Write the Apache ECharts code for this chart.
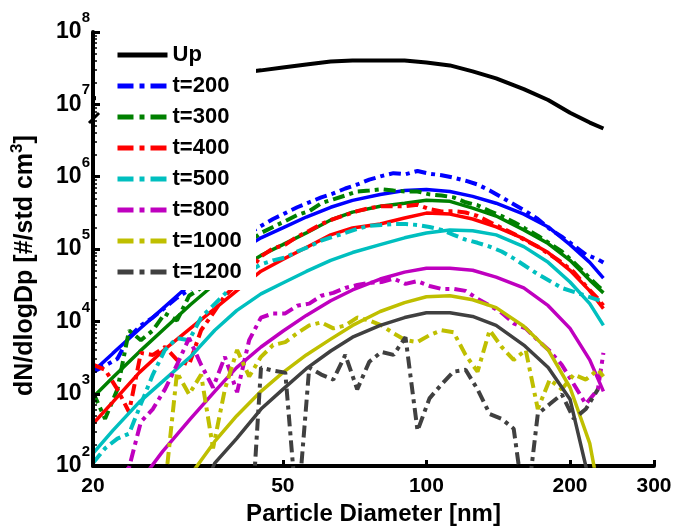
<!DOCTYPE html>
<html><head><meta charset="utf-8">
<script src="https://cdn.jsdelivr.net/npm/echarts@6/dist/echarts.min.js"></script>
<style>html,body{margin:0;padding:0;background:#fff}#c{width:675px;height:531px}</style>
</head><body><div id="c"></div>
<script>
// Particle diameters (nm) for fitted curves
const dFit = [20,22,25,28,32,36,40,45,50,56,63,70,80,90,100,112,125,140,160,180,200,220,235];
// Particle diameters (nm) for measured (dash-dot) curves
const dMeas = [20.0,21.2,22.5,23.8,25.2,26.7,28.3,30.0,31.8,33.7,35.7,37.8,40.1,42.5,45.0,47.7,50.6,53.6,56.8,60.2,63.8,67.6,71.6,75.9,80.5,85.3,90.4,95.8,101.5,107.6,114.0,120.8,128.0,135.7,143.8,152.4,161.5,171.2,181.4,192.2,203.7,215.9,228.8,235];

const up = [1.19e7,1.43e7,1.73e7,1.96e7,2.22e7,2.44e7,2.68e7,2.95e7,3.24e7,3.56e7,3.91e7,4.03e7,4.03e7,4.03e7,3.79e7,3.45e7,2.86e7,2.29e7,1.62e7,1.15e7,7.66e6,5.6e6,4.64e6];

const fit200 = [2020,3610,7780,15000,32900,56000,89500,143000,196000,277000,378000,471000,569000,645000,665000,625000,535000,430000,304000,202000,115000,65500,39700];
const fit300 = [895,1675,3790,7550,17000,32900,50900,81600,115000,167000,252000,324000,391000,430000,471000,457000,367000,286000,184000,119000,69800,37200,24800];
const fit400 = [385,766,1960,3900,8000,15000,26400,49400,71900,105000,157000,196000,222000,268000,314000,304000,260000,202000,139000,89500,50900,26400,15000];
const fit500 = [150,309,766,1480,3240,7550,14100,24000,34000,49000,69800,89500,115000,143000,167000,184000,179000,157000,108000,65500,35000,17600,8830];
const fit800 = [10,25,59,160,450,1080,2300,4430,7300,12100,19300,27200,38500,48000,54300,54300,51000,40900,29000,16500,8000,2940,1080];
const fit1000 = [5,8,12,20,75,219,494,1080,1960,3440,5690,8800,13700,18200,21900,22600,19900,15500,8550,4030,1220,206,20];
const fit1200 = [3,4,6,10,20,110,240,615,1150,2220,3900,6050,8800,11300,13200,13200,11700,8800,4710,2300,841,59,7];

const t200 = [2000,2440,3040,6050,8800,11300,15500,21200,27200,38500,54300,79000,115000,167000,209000,260000,314000,378000,443000,518000,587000,687000,780000,910000,1020000,1120000,1080000,1200000,1100000,1050000,970000,880000,780000,645000,518000,416000,334000,260000,190000,148000,112000,84000,72000,65000];
const t300 = [1050,450,1150,7500,5500,7500,12900,10300,22600,29000,42000,61500,89500,126000,167000,202000,244000,295000,334000,430000,487000,550000,625000,645000,670000,645000,625000,625000,570000,550000,518000,443000,403000,334000,286000,237000,190000,153000,119000,92500,65500,45000,30900,26400];
const t400 = [2520,2150,1150,560,3670,3440,4430,2940,2520,7550,12900,22600,32900,49400,79000,102000,115000,148000,179000,222000,260000,295000,334000,367000,391000,391000,391000,410000,356000,330000,334000,320000,286000,237000,196000,163000,131000,108000,84000,65500,48000,30900,20600,16500];
const t500 = [110,176,240,281,720,1840,4030,5870,5500,11300,16500,24000,36100,49400,61500,69800,76600,92500,108000,131000,148000,167000,190000,209000,215000,222000,222000,215000,202000,184000,157000,135000,122000,108000,92500,74300,57800,45000,36100,29000,25600,22600,19900,18700];
const t800 = [40,50,70,95,409,615,1150,2520,5870,2520,1220,3240,1050,5500,11300,12900,12900,16500,17600,22600,24800,29000,31800,34000,35000,39000,33000,36000,30900,28100,28100,26400,20600,16500,13200,9400,8000,5500,3900,2520,1350,720,1150,3670];
const t1000 = [30,30,30,30,30,30,50,1960,984,1840,176,1150,4030,1730,3240,4710,5180,6870,8800,9700,8000,8800,11300,10300,8800,6870,5500,5180,6450,7550,7080,3440,2020,7550,4430,2940,4030,615,1570,1150,1840,1570,2150,1730];
const t1200 = [5,5,5,5,5,5,5,5,5,5,5,5,5,5,2300,2090,1960,20,2300,1840,1570,3440,1150,2770,3780,3440,6050,309,864,1350,2020,2150,1150,526,450,329,20,526,720,984,450,615,1150,null];

const xTicks = [20,50,100,200,300];
const yTicks = [1e2,1e3,1e4,1e5,1e6,1e7,1e8];
const yMinor = [];
[1e2,1e3,1e4,1e5,1e6,1e7].forEach(function(b){ for (let k=2;k<=9;k++) yMinor.push(b*k); });

const FONT = 'Liberation Sans, Arial, Helvetica, sans-serif';
const DASH = [12,5,4,5];
const DASH_LEG = [16,6,5,6];

function pairs(xs, ys){ return xs.map(function(x,i){ return [x, ys[i]]; }); }

const groups = [
  {name:'t=200', color:'#0000ff', meas:t200, fit:fit200},
  {name:'t=300', color:'#008000', meas:t300, fit:fit300},
  {name:'t=400', color:'#ff0000', meas:t400, fit:fit400},
  {name:'t=500', color:'#00bfbf', meas:t500, fit:fit500},
  {name:'t=800', color:'#bf00bf', meas:t800, fit:fit800},
  {name:'t=1000', color:'#bfbf00', meas:t1000, fit:fit1000},
  {name:'t=1200', color:'#404040', meas:t1200, fit:fit1200}
];

const series = [{
  name:'Up', type:'line', data:pairs(dFit, up), symbol:'none', showSymbol:false,
  lineStyle:{color:'#000', width:4}, itemStyle:{color:'#000'}, z:2, animation:false
}];
groups.forEach(function(g){
  series.push({
    name:g.name, type:'line', data:pairs(dMeas, g.meas), symbol:'none', showSymbol:false,
    lineStyle:{color:g.color, width:4, type:DASH, cap:'butt'}, itemStyle:{color:g.color}, z:2, animation:false
  });
  series.push({
    name:g.name+' fit', type:'line', data:pairs(dFit, g.fit), symbol:'none', showSymbol:false,
    lineStyle:{color:g.color, width:3.5}, itemStyle:{color:g.color}, z:2, animation:false
  });
});

const legendData = [{name:'Up', lineStyle:{width:5}}].concat(groups.map(function(g){
  return {name:g.name, lineStyle:{width:5, type:DASH_LEG}};
}));

const chart = echarts.init(document.getElementById('c'), null, {renderer:'canvas'});
chart.setOption({
  animation:false,
  backgroundColor:'#fff',
  grid:{left:93, right:21, top:32, bottom:58, containLabel:false},
  legend:{
    orient:'vertical', left:115, top:44, padding:0, itemWidth:50, itemHeight:14, itemGap:9,
    selectedMode:false, data:legendData, itemStyle:{opacity:0, borderWidth:0},
    textStyle:{fontSize:22, fontWeight:'bold', color:'#000', fontFamily:FONT, lineHeight:22}
  },
  xAxis:{
    type:'log', logBase:10, min:20, max:300,
    axisLine:{lineStyle:{color:'#000', width:4}},
    axisTick:{inside:true, length:6, lineStyle:{color:'#000', width:3}, customValues:xTicks},
    axisLabel:{customValues:xTicks, formatter:function(v){return String(Math.round(v));}, fontSize:21, fontWeight:'bold', color:'#000', fontFamily:FONT, margin:10, showMinLabel:true, showMaxLabel:true},
    splitLine:{show:false}, minorTick:{show:false},
    name:'Particle Diameter [nm]', nameLocation:'middle', nameGap:32,
    nameTextStyle:{fontSize:24, fontWeight:'bold', color:'#000', fontFamily:FONT}
  },
  yAxis:[{
    type:'log', logBase:10, min:100, max:1e8, z:5,
    axisLine:{lineStyle:{color:'#000', width:4}},
    axisTick:{inside:true, length:7, lineStyle:{color:'#000', width:3}, customValues:yTicks},
    axisLabel:{customValues:yTicks, margin:3, formatter:function(v){return '{b|10}{s|'+Math.round(Math.log10(v))+'}';},
      rich:{
        b:{fontSize:23, fontWeight:'bold', color:'#000', fontFamily:FONT},
        s:{fontSize:15, fontWeight:'bold', color:'#000', fontFamily:FONT, padding:[0,0,28,0]}
      }},
    splitLine:{show:false}, minorTick:{show:false},
    name:'{t|dN/dlogDp [#/std cm}{s|3}{t|]}', nameLocation:'middle', nameGap:51, nameRotate:90,
    nameTextStyle:{
      padding:[0,33,0,0],
      rich:{
        t:{fontSize:25, fontWeight:'bold', color:'#000', fontFamily:FONT},
        s:{fontSize:17, fontWeight:'bold', color:'#000', fontFamily:FONT, padding:[0,0,16,0]}
      }
    }
  },{
    type:'log', logBase:10, min:100, max:1e8, z:5, position:'left',
    axisLine:{show:false},
    axisTick:{inside:true, length:4, lineStyle:{color:'#000', width:1.5}, customValues:yMinor},
    axisLabel:{show:false}, splitLine:{show:false}
  }],
  graphic:[
    {type:'rect', shape:{x:96, y:33, width:160, height:257}, style:{fill:'#fff'}, z:3, silent:true},
    {type:'polyline', shape:{points:[[89,123],[99,113]]}, style:{stroke:'#000', lineWidth:3, fill:null}, z:6, silent:true}
  ],
  series:series
});
</script></body></html>
